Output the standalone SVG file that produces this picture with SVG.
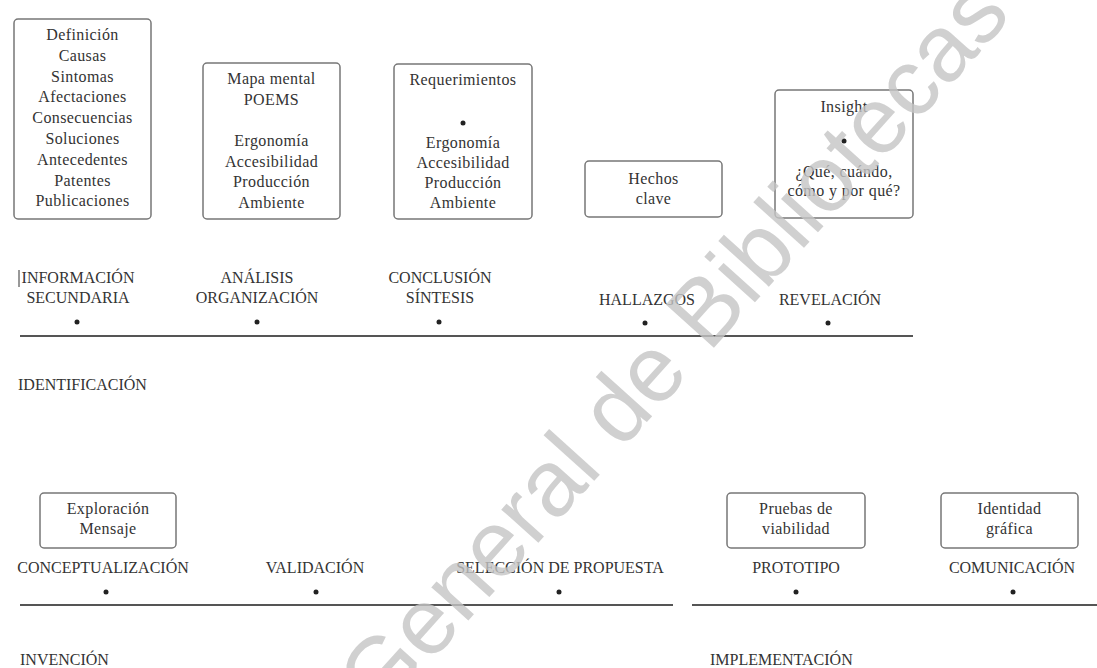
<svg xmlns="http://www.w3.org/2000/svg" width="1097" height="668" viewBox="0 0 1097 668">
<style>
  .box { fill: #ffffff; stroke: #777777; stroke-width: 1.5; }
  .bt { font-family: "Liberation Serif", "Times New Roman", serif; font-size: 16px; fill: #333333; text-anchor: middle; letter-spacing: 0.4px; }
  .lb { font-family: "Liberation Serif", "Times New Roman", serif; font-size: 16px; fill: #333333; text-anchor: middle; }
  .ph { font-family: "Liberation Serif", "Times New Roman", serif; font-size: 16px; fill: #333333; }
  .dot { fill: #222222; }
  .axis { stroke: #555555; stroke-width: 1.8; fill: none; }
  .wm { font-family: "Liberation Sans", Arial, sans-serif; font-size: 94px; fill: #c4c4c4; fill-opacity: 0.8; text-anchor: middle; }
</style>
<rect width="1097" height="668" fill="#ffffff"/>

<g id="connectors">
  <line class="axis" x1="20" y1="336" x2="913" y2="336"/>
  <line class="axis" x1="20" y1="605" x2="673" y2="605"/>
  <line class="axis" x1="692" y1="605" x2="1097" y2="605"/>
</g>

<g id="box-info">
  <rect class="box" x="14" y="19" width="137" height="200" rx="4"/>
  <text class="bt" x="82.5" y="40">Definición</text>
  <text class="bt" x="82.5" y="60.8">Causas</text>
  <text class="bt" x="82.5" y="81.6">Sintomas</text>
  <text class="bt" x="82.5" y="102.4">Afectaciones</text>
  <text class="bt" x="82.5" y="123.2">Consecuencias</text>
  <text class="bt" x="82.5" y="144">Soluciones</text>
  <text class="bt" x="82.5" y="164.8">Antecedentes</text>
  <text class="bt" x="82.5" y="185.6">Patentes</text>
  <text class="bt" x="82.5" y="206.4">Publicaciones</text>
</g>

<g id="box-analisis">
  <rect class="box" x="203" y="63" width="137" height="156" rx="4"/>
  <text class="bt" x="271.5" y="84">Mapa mental</text>
  <text class="bt" x="271.5" y="105">POEMS</text>
  <text class="bt" x="271.5" y="146">Ergonomía</text>
  <text class="bt" x="271.5" y="167">Accesibilidad</text>
  <text class="bt" x="271.5" y="187">Producción</text>
  <text class="bt" x="271.5" y="208">Ambiente</text>
</g>

<g id="box-conclusion">
  <rect class="box" x="394" y="64" width="138" height="155" rx="4"/>
  <text class="bt" x="463" y="85">Requerimientos</text>
  <circle class="dot" cx="463" cy="123" r="2.5"/>
  <text class="bt" x="463" y="148">Ergonomía</text>
  <text class="bt" x="463" y="168">Accesibilidad</text>
  <text class="bt" x="463" y="188">Producción</text>
  <text class="bt" x="463" y="208">Ambiente</text>
</g>

<g id="box-hallazgos">
  <rect class="box" x="585" y="161" width="137" height="56" rx="4"/>
  <text class="bt" x="653.5" y="184">Hechos</text>
  <text class="bt" x="653.5" y="204">clave</text>
</g>

<g id="box-revelacion">
  <rect class="box" x="775" y="90" width="138" height="128" rx="4"/>
  <text class="bt" x="844" y="112">Insight</text>
  <circle class="dot" cx="844" cy="141" r="2.5"/>
  <text class="bt" x="844" y="177">¿Qué, cuándo,</text>
  <text class="bt" x="844" y="196">cómo y por qué?</text>
</g>

<g id="stage-informacion">
  <line x1="19" y1="270" x2="19" y2="287" stroke="#333333" stroke-width="1"/>
  <text class="lb" x="78" y="283">INFORMACIÓN</text>
  <text class="lb" x="78" y="303">SECUNDARIA</text>
  <circle class="dot" cx="77" cy="322" r="2.5"/>
</g>
<g id="stage-analisis">
  <text class="lb" x="257" y="283">ANÁLISIS</text>
  <text class="lb" x="257" y="303">ORGANIZACIÓN</text>
  <circle class="dot" cx="257" cy="322" r="2.5"/>
</g>
<g id="stage-conclusion">
  <text class="lb" x="440" y="283">CONCLUSIÓN</text>
  <text class="lb" x="440" y="303">SÍNTESIS</text>
  <circle class="dot" cx="439" cy="322" r="2.5"/>
</g>
<g id="stage-hallazgos">
  <text class="lb" x="647" y="305">HALLAZGOS</text>
  <circle class="dot" cx="645" cy="323" r="2.5"/>
</g>
<g id="stage-revelacion">
  <text class="lb" x="830" y="305">REVELACIÓN</text>
  <circle class="dot" cx="828" cy="323" r="2.5"/>
</g>
<g id="phase-identificacion">
  <text class="ph" x="18" y="390">IDENTIFICACIÓN</text>
</g>

<g id="box-exploracion">
  <rect class="box" x="40" y="493" width="136" height="55" rx="4"/>
  <text class="bt" x="108" y="514">Exploración</text>
  <text class="bt" x="108" y="534">Mensaje</text>
</g>
<g id="box-pruebas">
  <rect class="box" x="727" y="493" width="138" height="55" rx="4"/>
  <text class="bt" x="796" y="514">Pruebas de</text>
  <text class="bt" x="796" y="534">viabilidad</text>
</g>
<g id="box-identidad">
  <rect class="box" x="941" y="493" width="137" height="55" rx="4"/>
  <text class="bt" x="1009.5" y="514">Identidad</text>
  <text class="bt" x="1009.5" y="534">gráfica</text>
</g>

<g id="stage-conceptualizacion">
  <text class="lb" x="103" y="573">CONCEPTUALIZACIÓN</text>
  <circle class="dot" cx="106" cy="592" r="2.5"/>
</g>
<g id="stage-validacion">
  <text class="lb" x="315" y="573">VALIDACIÓN</text>
  <circle class="dot" cx="316" cy="592" r="2.5"/>
</g>
<g id="stage-seleccion">
  <text class="lb" x="560" y="573">SELECCIÓN DE PROPUESTA</text>
  <circle class="dot" cx="559" cy="592" r="2.5"/>
</g>
<g id="stage-prototipo">
  <text class="lb" x="796" y="573">PROTOTIPO</text>
  <circle class="dot" cx="796" cy="592" r="2.5"/>
</g>
<g id="stage-comunicacion">
  <text class="lb" x="1012" y="573">COMUNICACIÓN</text>
  <circle class="dot" cx="1013" cy="592" r="2.5"/>
</g>
<g id="phase-invencion">
  <text class="ph" x="20" y="665">INVENCIÓN</text>
</g>
<g id="phase-implementacion">
  <text class="ph" x="710" y="665">IMPLEMENTACIÓN</text>
</g>

<g id="watermark">
  <text class="wm" transform="translate(672,345) rotate(-48)" y="33">General de Bibliotecas</text>
</g>
</svg>
